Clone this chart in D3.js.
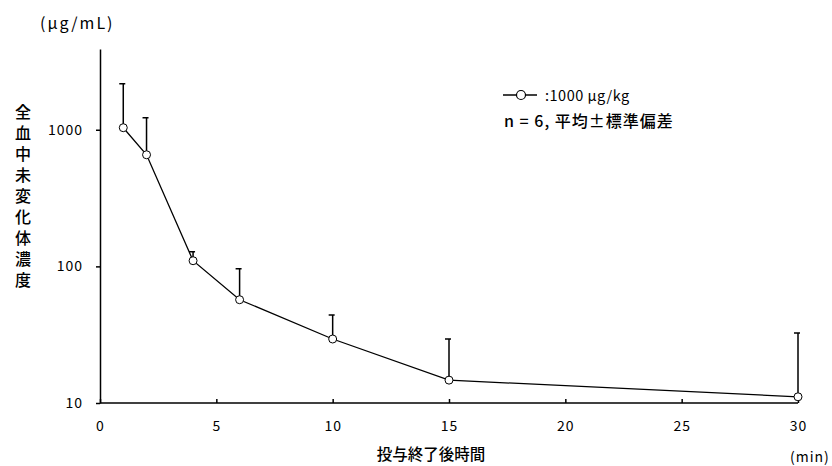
<!DOCTYPE html>
<html>
<meta charset="utf-8">
<head>
  <script src="https://d3js.org/d3.v7.min.js"></script>
  <style>
  body { margin: 0; background: #fff; }
  svg text { font-family: "Noto Sans CJK JP", sans-serif; fill: #000; }
  .axis path, .axis line { stroke: #000; stroke-width: 1.5px; }
  .tick text { font-size: 14px; letter-spacing: 1px; }
  </style>
</head>
<body>
<svg id="chart" width="832" height="466"></svg>
<script>

// data
var times = [1, 2, 4, 6, 10, 15, 30]
var means = [1035, 656, 110, 57, 29.4, 14.7, 11.1]
var upper = [2170, 1225, 128, 96, 44, 29.4, 32.6]   // mean + SD

var xTicks = [0, 5, 10, 15, 20, 25, 30]
var yTicks = [10, 100, 1000]
var yLabel = "全血中未変化体濃度"

var svg = d3.select("#chart")

var x = d3.scaleLinear().domain([0, 30]).range([100, 798])
var y = d3.scaleLog().domain([10, 3900]).range([403, 49])

// axes
var xAxis = svg.append("g")
    .attr("class", "axis")
    .attr("transform", "translate(0,403)")
    .call(d3.axisBottom(x).tickValues(xTicks).tickSizeInner(-4).tickSizeOuter(0).tickPadding(18))
xAxis.select(".domain").attr("d", "M" + x(0) + ",0H" + x(30))
xAxis.selectAll(".tick line").attr("stroke-width", 1)

var yAxis = svg.append("g")
    .attr("class", "axis")
    .attr("transform", "translate(100,0)")
    .call(d3.axisLeft(y).tickValues(yTicks).tickFormat(d3.format("d")).tickSizeInner(4).tickSizeOuter(0).tickPadding(13))
yAxis.selectAll(".tick line").attr("stroke-width", 1)

// error bars
var pts = times.map(function(t, i) { return {t: t, m: means[i], u: upper[i]} })

svg.append("g").selectAll("path").data(pts).enter()
  .append("path")
    .attr("fill", "none")
    .attr("stroke", "#000")
    .attr("stroke-width", 1.5)
    .attr("d", function(d) {
      var cx = x(d.t)
      return "M" + cx + "," + y(d.m) + "V" + y(d.u) + "M" + (cx - 4) + "," + y(d.u) + "H" + (cx + 2)
    })

// line
var line = d3.line()
    .x(function(d) { return x(d.t) })
    .y(function(d) { return y(d.m) })

svg.append("path")
    .datum(pts)
    .attr("fill", "none")
    .attr("stroke", "#000")
    .attr("stroke-width", 1.3)
    .attr("d", line)

svg.append("g").selectAll("circle").data(pts).enter()
  .append("circle")
    .attr("cx", function(d) { return x(d.t) })
    .attr("cy", function(d) { return y(d.m) })
    .attr("r", 4)
    .attr("fill", "#fff")
    .attr("stroke", "#000")
    .attr("stroke-width", 1)

// unit label
svg.append("text")
    .attr("x", 40).attr("y", 29)
    .style("font-size", "16px")
    .style("letter-spacing", "2px")
    .text("(μg/mL)")

// vertical y label, one text written top to bottom
svg.append("text")
    .attr("x", 23).attr("y", 104)
    .style("writing-mode", "vertical-rl")
    .style("text-orientation", "upright")
    .style("font-size", "16px")
    .style("font-weight", "500")
    .style("letter-spacing", "5px")
    .text(yLabel)

// x title
svg.append("text")
    .attr("x", 431).attr("y", 460)
    .attr("text-anchor", "middle")
    .style("font-size", "15.5px")
    .style("font-weight", "500")
    .text("投与終了後時間")

svg.append("text")
    .attr("x", 790).attr("y", 462)
    .style("font-size", "14px")
    .style("letter-spacing", "1px")
    .text("(min)")

// legend
var lg = svg.append("g")
lg.append("line")
    .attr("x1", 503).attr("x2", 537).attr("y1", 95).attr("y2", 95)
    .attr("stroke", "#000").attr("stroke-width", 1.5)
lg.append("circle")
    .attr("cx", 521).attr("cy", 95).attr("r", 4.5)
    .attr("fill", "#fff").attr("stroke", "#000").attr("stroke-width", 1.2)
lg.append("text")
    .attr("x", 545).attr("y", 101)
    .style("font-size", "14.5px")
    .style("letter-spacing", "0.5px")
    .text(":1000 μg/kg")
lg.append("text")
    .attr("x", 504).attr("y", 127)
    .style("font-size", "16px")
    .style("font-weight", "500")
    .style("letter-spacing", "1px")
    .text("n = 6, 平均±標準偏差")

</script>
</body>
</html>
